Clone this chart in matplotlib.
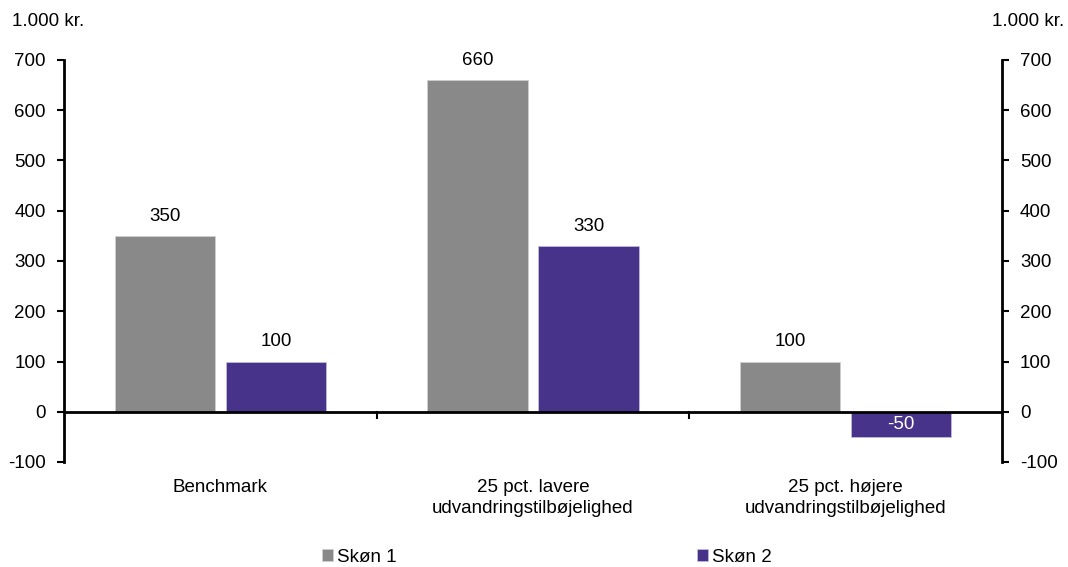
import matplotlib
matplotlib.use("Agg")
import matplotlib.pyplot as plt
import numpy as np

categories = ["Benchmark", "25 pct. lavere\nudvandringstilbøjelighed", "25 pct. højere\nudvandringstilbøjelighed"]
skon1 = [350, 660, 100]
skon2 = [100, 330, -50]
series_names = ["Skøn 1", "Skøn 2"]
yticks = [-100, 0, 100, 200, 300, 400, 500, 600, 700]
unit_label = "1.000 kr."

plt.rcParams['font.family'] = ['Liberation Sans', 'DejaVu Sans']
fs = 13.5
gray = "#898989"
purple = "#48338A"

fig = plt.figure(figsize=(10.68, 5.67), dpi=100)
ax = fig.add_axes([64/1068, 1-462/567, (1002-64)/1068, (462-60)/567])

x = np.arange(len(categories))
w = 0.32
off = 0.1775
b1 = ax.bar(x - off, skon1, w, color=gray, edgecolor="#d0d0d0", linewidth=0.5, label=series_names[0], zorder=2)
b2 = ax.bar(x + off, skon2, w, color=purple, edgecolor="#c8c0e0", linewidth=0.5, label=series_names[1], zorder=2)

for xi, v in zip(x - off, skon1):
    ax.text(xi, v + 22, f"{v}", ha="center", va="bottom", fontsize=fs, color="black")
for xi, v in zip(x + off, skon2):
    if v >= 0:
        ax.text(xi, v + 22, f"{v}", ha="center", va="bottom", fontsize=fs, color="black")
    else:
        ax.text(xi, v / 2, f"{v}", ha="center", va="center", fontsize=fs, color="white", zorder=3)

ax.set_xlim(-0.5, 2.5)
ax.set_ylim(-100, 700)
ax.set_yticks(yticks)
ax.set_yticklabels([str(t) for t in yticks], fontsize=fs)
ax.tick_params(axis="y", direction="out", length=5, width=1.5, pad=8, right=True, labelright=True)

for s in ["top", "bottom"]:
    ax.spines[s].set_visible(False)
ax.spines["left"].set_linewidth(2)
ax.spines["right"].set_linewidth(2)

ax.axhline(0, color="black", linewidth=2, zorder=3)
ax.set_xticks([])
for b in [0.5, 1.5]:
    ax.plot([b, b], [0, -12], color="black", linewidth=1.5, zorder=3, clip_on=False)

for xi, c in zip(x, categories):
    ax.text(xi, -134, c, ha="center", va="top", fontsize=fs, linespacing=1.3)

fig.text(12/1068, 1-21/567, unit_label, ha="left", va="center", fontsize=fs)
fig.text(1064/1068, 1-21/567, unit_label, ha="right", va="center", fontsize=fs)

leg = fig.legend(handles=[b1, b2], labels=series_names, loc="center", bbox_to_anchor=(0.512, 1-557/567),
                 ncol=2, frameon=False, fontsize=fs, handlelength=0.6, handleheight=0.6,
                 handletextpad=0.2, columnspacing=16.05)

fig.savefig("out.png", dpi=100)
